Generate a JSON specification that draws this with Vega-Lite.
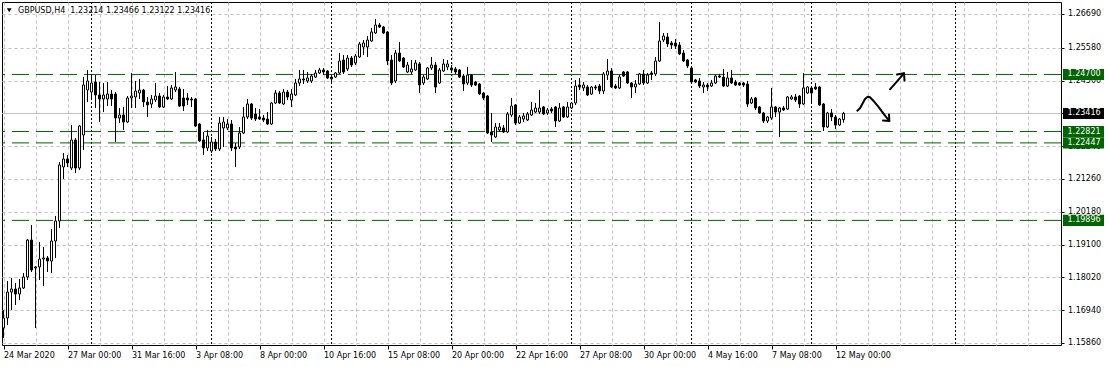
{
"$schema": "https://vega.github.io/schema/vega-lite/v6.json",
"width": 1059, "height": 343,
"autosize": {"type": "none"},
"padding": {"left": 2, "top": 2, "right": 46, "bottom": 22},
"background": "white",
"config": {"view": {"stroke": "#000000", "strokeWidth": 1}, "axis": {"labelOverlap": false, "labelFlush": false, "labelBound": false}},
"datasets": {
"candles": [
{"i":0,"o":1.16354,"c":1.16683,"h":1.16946,"l":1.16025},
{"i":1,"o":1.16683,"c":1.17538,"h":1.17901,"l":1.16453},
{"i":2,"o":1.17538,"c":1.17637,"h":1.18000,"l":1.16946},
{"i":3,"o":1.17637,"c":1.17473,"h":1.17835,"l":1.17110},
{"i":4,"o":1.17473,"c":1.17670,"h":1.17967,"l":1.17275},
{"i":5,"o":1.17670,"c":1.18033,"h":1.18164,"l":1.17637},
{"i":6,"o":1.18033,"c":1.19250,"h":1.19283,"l":1.17934},
{"i":7,"o":1.19250,"c":1.18263,"h":1.19745,"l":1.18197},
{"i":8,"o":1.18329,"c":1.18362,"h":1.18395,"l":1.16354},
{"i":9,"o":1.18362,"c":1.18625,"h":1.19184,"l":1.17934},
{"i":10,"o":1.18625,"c":1.18658,"h":1.19020,"l":1.17736},
{"i":11,"o":1.18658,"c":1.18559,"h":1.18724,"l":1.18197},
{"i":12,"o":1.18559,"c":1.19217,"h":1.19613,"l":1.18164},
{"i":13,"o":1.19217,"c":1.19876,"h":1.20041,"l":1.18658},
{"i":14,"o":1.19876,"c":1.21719,"h":1.21818,"l":1.19646},
{"i":15,"o":1.21654,"c":1.21917,"h":1.22114,"l":1.21259},
{"i":16,"o":1.21917,"c":1.21785,"h":1.22049,"l":1.21654},
{"i":17,"o":1.21621,"c":1.22542,"h":1.23036,"l":1.21555},
{"i":18,"o":1.22542,"c":1.21621,"h":1.22608,"l":1.21456},
{"i":19,"o":1.21621,"c":1.23003,"h":1.23036,"l":1.21555},
{"i":20,"o":1.22707,"c":1.24353,"h":1.24616,"l":1.22213},
{"i":21,"o":1.24188,"c":1.24485,"h":1.24847,"l":1.23793},
{"i":22,"o":1.24122,"c":1.24419,"h":1.24715,"l":1.23859},
{"i":23,"o":1.24452,"c":1.24023,"h":1.24682,"l":1.23596},
{"i":24,"o":1.24023,"c":1.23892,"h":1.24452,"l":1.23135},
{"i":25,"o":1.23892,"c":1.24023,"h":1.24419,"l":1.23464},
{"i":26,"o":1.23892,"c":1.24056,"h":1.24452,"l":1.23662},
{"i":27,"o":1.24056,"c":1.23892,"h":1.24188,"l":1.23662},
{"i":28,"o":1.24056,"c":1.23267,"h":1.24122,"l":1.22476},
{"i":29,"o":1.23267,"c":1.23365,"h":1.23596,"l":1.23102},
{"i":30,"o":1.23365,"c":1.23135,"h":1.23629,"l":1.22872},
{"i":31,"o":1.23135,"c":1.23925,"h":1.23990,"l":1.23102},
{"i":32,"o":1.23925,"c":1.23990,"h":1.24748,"l":1.23596},
{"i":33,"o":1.23958,"c":1.24155,"h":1.24485,"l":1.23596},
{"i":34,"o":1.24089,"c":1.24188,"h":1.24551,"l":1.23892},
{"i":35,"o":1.24188,"c":1.23793,"h":1.24222,"l":1.23629},
{"i":36,"o":1.23793,"c":1.23695,"h":1.23958,"l":1.23300},
{"i":37,"o":1.23727,"c":1.23892,"h":1.24023,"l":1.23596},
{"i":38,"o":1.23859,"c":1.23990,"h":1.24419,"l":1.23793},
{"i":39,"o":1.23990,"c":1.23629,"h":1.24089,"l":1.23596},
{"i":40,"o":1.23629,"c":1.23958,"h":1.24023,"l":1.23596},
{"i":41,"o":1.23958,"c":1.23892,"h":1.24320,"l":1.23859},
{"i":42,"o":1.23892,"c":1.24255,"h":1.24353,"l":1.23859},
{"i":43,"o":1.24188,"c":1.24287,"h":1.24781,"l":1.24122},
{"i":44,"o":1.24222,"c":1.23662,"h":1.24287,"l":1.23629},
{"i":45,"o":1.23925,"c":1.23662,"h":1.24222,"l":1.23497},
{"i":46,"o":1.23925,"c":1.23859,"h":1.24089,"l":1.23695},
{"i":47,"o":1.23892,"c":1.23859,"h":1.23958,"l":1.23629},
{"i":48,"o":1.23892,"c":1.23003,"h":1.23925,"l":1.22971},
{"i":49,"o":1.23069,"c":1.22509,"h":1.23102,"l":1.22476},
{"i":50,"o":1.22542,"c":1.22279,"h":1.22806,"l":1.22049},
{"i":51,"o":1.22279,"c":1.22674,"h":1.22872,"l":1.22180},
{"i":52,"o":1.22180,"c":1.22476,"h":1.22641,"l":1.22114},
{"i":53,"o":1.22476,"c":1.22246,"h":1.22575,"l":1.22180},
{"i":54,"o":1.22246,"c":1.23102,"h":1.23300,"l":1.22180},
{"i":55,"o":1.22938,"c":1.23135,"h":1.23300,"l":1.22312},
{"i":56,"o":1.22938,"c":1.23069,"h":1.23234,"l":1.22872},
{"i":57,"o":1.23069,"c":1.22279,"h":1.23201,"l":1.22180},
{"i":58,"o":1.22312,"c":1.22246,"h":1.22443,"l":1.21654},
{"i":59,"o":1.22312,"c":1.22773,"h":1.22971,"l":1.22246},
{"i":60,"o":1.22773,"c":1.23300,"h":1.23629,"l":1.22740},
{"i":61,"o":1.23300,"c":1.23727,"h":1.23892,"l":1.23234},
{"i":62,"o":1.23727,"c":1.23267,"h":1.23760,"l":1.23201},
{"i":63,"o":1.23398,"c":1.23234,"h":1.23596,"l":1.23168},
{"i":64,"o":1.23300,"c":1.23234,"h":1.23563,"l":1.23201},
{"i":65,"o":1.23267,"c":1.23201,"h":1.23365,"l":1.23135},
{"i":66,"o":1.23234,"c":1.23069,"h":1.23464,"l":1.23036},
{"i":67,"o":1.23069,"c":1.23760,"h":1.23793,"l":1.23036},
{"i":68,"o":1.23760,"c":1.24089,"h":1.24188,"l":1.23727},
{"i":69,"o":1.24089,"c":1.23760,"h":1.24155,"l":1.23727},
{"i":70,"o":1.23727,"c":1.24122,"h":1.24222,"l":1.23695},
{"i":71,"o":1.24122,"c":1.23958,"h":1.24188,"l":1.23859},
{"i":72,"o":1.23859,"c":1.24056,"h":1.24222,"l":1.23629},
{"i":73,"o":1.24023,"c":1.24419,"h":1.24551,"l":1.23990},
{"i":74,"o":1.24419,"c":1.24551,"h":1.24847,"l":1.24320},
{"i":75,"o":1.24551,"c":1.24518,"h":1.24847,"l":1.24386},
{"i":76,"o":1.24485,"c":1.24584,"h":1.24781,"l":1.24419},
{"i":77,"o":1.24485,"c":1.24649,"h":1.24715,"l":1.24419},
{"i":78,"o":1.24616,"c":1.24748,"h":1.24847,"l":1.24584},
{"i":79,"o":1.24748,"c":1.24847,"h":1.24913,"l":1.24715},
{"i":80,"o":1.24847,"c":1.24781,"h":1.24913,"l":1.24682},
{"i":81,"o":1.24814,"c":1.24584,"h":1.24847,"l":1.24551},
{"i":82,"o":1.24616,"c":1.24551,"h":1.24682,"l":1.24419},
{"i":83,"o":1.24616,"c":1.24748,"h":1.24781,"l":1.24584},
{"i":84,"o":1.24748,"c":1.25143,"h":1.25406,"l":1.24715},
{"i":85,"o":1.25176,"c":1.24781,"h":1.25340,"l":1.24715},
{"i":86,"o":1.24880,"c":1.25242,"h":1.25340,"l":1.24814},
{"i":87,"o":1.25242,"c":1.25011,"h":1.25307,"l":1.24946},
{"i":88,"o":1.25077,"c":1.25307,"h":1.25373,"l":1.25011},
{"i":89,"o":1.25275,"c":1.25702,"h":1.25768,"l":1.25242},
{"i":90,"o":1.25604,"c":1.25735,"h":1.25834,"l":1.25340},
{"i":91,"o":1.25604,"c":1.25834,"h":1.25966,"l":1.25275},
{"i":92,"o":1.25801,"c":1.26098,"h":1.26229,"l":1.25768},
{"i":93,"o":1.26065,"c":1.26328,"h":1.26526,"l":1.26032},
{"i":94,"o":1.26328,"c":1.26262,"h":1.26394,"l":1.26229},
{"i":95,"o":1.26262,"c":1.26065,"h":1.26295,"l":1.26032},
{"i":96,"o":1.26098,"c":1.25143,"h":1.26131,"l":1.25011},
{"i":97,"o":1.25176,"c":1.24419,"h":1.25340,"l":1.24353},
{"i":98,"o":1.24485,"c":1.25406,"h":1.25505,"l":1.24419},
{"i":99,"o":1.25406,"c":1.25143,"h":1.25768,"l":1.25110},
{"i":100,"o":1.25242,"c":1.24946,"h":1.25275,"l":1.24913},
{"i":101,"o":1.24781,"c":1.25011,"h":1.25110,"l":1.24748},
{"i":102,"o":1.24781,"c":1.24880,"h":1.25176,"l":1.24715},
{"i":103,"o":1.24847,"c":1.25077,"h":1.25176,"l":1.24814},
{"i":104,"o":1.25044,"c":1.24353,"h":1.25110,"l":1.24089},
{"i":105,"o":1.24419,"c":1.24616,"h":1.24682,"l":1.24353},
{"i":106,"o":1.24551,"c":1.24913,"h":1.24946,"l":1.24518},
{"i":107,"o":1.24913,"c":1.25011,"h":1.25275,"l":1.24847},
{"i":108,"o":1.25011,"c":1.24287,"h":1.25110,"l":1.24089},
{"i":109,"o":1.24419,"c":1.24847,"h":1.24913,"l":1.24386},
{"i":110,"o":1.24814,"c":1.25044,"h":1.25209,"l":1.24781},
{"i":111,"o":1.24946,"c":1.25044,"h":1.25176,"l":1.24847},
{"i":112,"o":1.24913,"c":1.24847,"h":1.25011,"l":1.24748},
{"i":113,"o":1.24880,"c":1.24781,"h":1.24946,"l":1.24715},
{"i":114,"o":1.24847,"c":1.24616,"h":1.24880,"l":1.24584},
{"i":115,"o":1.24649,"c":1.24386,"h":1.24715,"l":1.24155},
{"i":116,"o":1.24419,"c":1.24682,"h":1.24946,"l":1.24353},
{"i":117,"o":1.24682,"c":1.24353,"h":1.24715,"l":1.24287},
{"i":118,"o":1.24452,"c":1.24353,"h":1.24485,"l":1.24320},
{"i":119,"o":1.24386,"c":1.24056,"h":1.24419,"l":1.24023},
{"i":120,"o":1.24089,"c":1.23925,"h":1.24122,"l":1.23859},
{"i":121,"o":1.23990,"c":1.22773,"h":1.24023,"l":1.22740},
{"i":122,"o":1.22806,"c":1.22707,"h":1.23431,"l":1.22476},
{"i":123,"o":1.22641,"c":1.22971,"h":1.23102,"l":1.22608},
{"i":124,"o":1.22872,"c":1.22971,"h":1.23102,"l":1.22806},
{"i":125,"o":1.22938,"c":1.22806,"h":1.23036,"l":1.22773},
{"i":126,"o":1.22806,"c":1.23398,"h":1.23464,"l":1.22773},
{"i":127,"o":1.23365,"c":1.23662,"h":1.23925,"l":1.23300},
{"i":128,"o":1.23695,"c":1.23102,"h":1.23727,"l":1.23036},
{"i":129,"o":1.23102,"c":1.23300,"h":1.23365,"l":1.23069},
{"i":130,"o":1.23234,"c":1.23333,"h":1.23431,"l":1.23135},
{"i":131,"o":1.23201,"c":1.23398,"h":1.23464,"l":1.23168},
{"i":132,"o":1.23365,"c":1.23530,"h":1.23793,"l":1.23333},
{"i":133,"o":1.23464,"c":1.23596,"h":1.23760,"l":1.23431},
{"i":134,"o":1.23464,"c":1.23596,"h":1.24188,"l":1.23398},
{"i":135,"o":1.23629,"c":1.23398,"h":1.23662,"l":1.23365},
{"i":136,"o":1.23431,"c":1.23530,"h":1.23596,"l":1.23365},
{"i":137,"o":1.23563,"c":1.23497,"h":1.23629,"l":1.23431},
{"i":138,"o":1.23629,"c":1.23168,"h":1.23662,"l":1.22971},
{"i":139,"o":1.23168,"c":1.23596,"h":1.23760,"l":1.23135},
{"i":140,"o":1.23629,"c":1.23300,"h":1.23662,"l":1.23267},
{"i":141,"o":1.23300,"c":1.23629,"h":1.23793,"l":1.23267},
{"i":142,"o":1.23596,"c":1.23760,"h":1.23793,"l":1.23563},
{"i":143,"o":1.23760,"c":1.24320,"h":1.24518,"l":1.23695},
{"i":144,"o":1.24353,"c":1.24287,"h":1.24584,"l":1.24188},
{"i":145,"o":1.24255,"c":1.24353,"h":1.24452,"l":1.24155},
{"i":146,"o":1.24287,"c":1.24023,"h":1.24353,"l":1.23990},
{"i":147,"o":1.24056,"c":1.24287,"h":1.24320,"l":1.24023},
{"i":148,"o":1.24287,"c":1.24255,"h":1.24353,"l":1.24188},
{"i":149,"o":1.24320,"c":1.24155,"h":1.24386,"l":1.24056},
{"i":150,"o":1.24155,"c":1.24715,"h":1.24781,"l":1.24056},
{"i":151,"o":1.24682,"c":1.24814,"h":1.25209,"l":1.24518},
{"i":152,"o":1.24814,"c":1.24287,"h":1.24913,"l":1.24255},
{"i":153,"o":1.24320,"c":1.24255,"h":1.24386,"l":1.24222},
{"i":154,"o":1.24255,"c":1.24616,"h":1.24682,"l":1.24222},
{"i":155,"o":1.24781,"c":1.24649,"h":1.24814,"l":1.24616},
{"i":156,"o":1.24781,"c":1.24419,"h":1.24814,"l":1.24386},
{"i":157,"o":1.24419,"c":1.24287,"h":1.24452,"l":1.23925},
{"i":158,"o":1.24287,"c":1.24386,"h":1.24518,"l":1.24089},
{"i":159,"o":1.24386,"c":1.24715,"h":1.24748,"l":1.24353},
{"i":160,"o":1.24715,"c":1.24419,"h":1.24847,"l":1.24353},
{"i":161,"o":1.24419,"c":1.24682,"h":1.24748,"l":1.24386},
{"i":162,"o":1.24748,"c":1.24715,"h":1.24814,"l":1.24518},
{"i":163,"o":1.24715,"c":1.25143,"h":1.25275,"l":1.24649},
{"i":164,"o":1.25143,"c":1.25801,"h":1.26427,"l":1.25110},
{"i":165,"o":1.25834,"c":1.25966,"h":1.26065,"l":1.25768},
{"i":166,"o":1.25933,"c":1.25702,"h":1.26065,"l":1.25604},
{"i":167,"o":1.25735,"c":1.25669,"h":1.25801,"l":1.25538},
{"i":168,"o":1.25735,"c":1.25636,"h":1.25868,"l":1.25538},
{"i":169,"o":1.25669,"c":1.25373,"h":1.25768,"l":1.25340},
{"i":170,"o":1.25406,"c":1.25143,"h":1.25505,"l":1.25110},
{"i":171,"o":1.25176,"c":1.24978,"h":1.25209,"l":1.24913},
{"i":172,"o":1.24913,"c":1.24452,"h":1.24946,"l":1.24419},
{"i":173,"o":1.24518,"c":1.24452,"h":1.24551,"l":1.24419},
{"i":174,"o":1.24485,"c":1.24320,"h":1.24584,"l":1.24255},
{"i":175,"o":1.24287,"c":1.24353,"h":1.24452,"l":1.24089},
{"i":176,"o":1.24353,"c":1.24287,"h":1.24419,"l":1.24155},
{"i":177,"o":1.24320,"c":1.24419,"h":1.24518,"l":1.24287},
{"i":178,"o":1.24419,"c":1.24649,"h":1.24682,"l":1.24386},
{"i":179,"o":1.24649,"c":1.24616,"h":1.24715,"l":1.24584},
{"i":180,"o":1.24616,"c":1.24320,"h":1.24880,"l":1.24287},
{"i":181,"o":1.24320,"c":1.24584,"h":1.24781,"l":1.24287},
{"i":182,"o":1.24584,"c":1.24419,"h":1.24847,"l":1.24386},
{"i":183,"o":1.24452,"c":1.24353,"h":1.24518,"l":1.24320},
{"i":184,"o":1.24419,"c":1.24353,"h":1.24452,"l":1.24320},
{"i":185,"o":1.24419,"c":1.24353,"h":1.24452,"l":1.24287},
{"i":186,"o":1.24386,"c":1.23727,"h":1.24485,"l":1.23629},
{"i":187,"o":1.23760,"c":1.23892,"h":1.23958,"l":1.23727},
{"i":188,"o":1.23925,"c":1.23596,"h":1.23958,"l":1.23530},
{"i":189,"o":1.23629,"c":1.23431,"h":1.23662,"l":1.23398},
{"i":190,"o":1.23431,"c":1.23168,"h":1.23464,"l":1.23102},
{"i":191,"o":1.23168,"c":1.23300,"h":1.23333,"l":1.23102},
{"i":192,"o":1.23267,"c":1.23629,"h":1.24255,"l":1.23201},
{"i":193,"o":1.23629,"c":1.23464,"h":1.23662,"l":1.23300},
{"i":194,"o":1.23464,"c":1.23596,"h":1.23629,"l":1.22641},
{"i":195,"o":1.23596,"c":1.23530,"h":1.23662,"l":1.23497},
{"i":196,"o":1.23563,"c":1.23958,"h":1.23990,"l":1.23530},
{"i":197,"o":1.23892,"c":1.23958,"h":1.24023,"l":1.23859},
{"i":198,"o":1.23958,"c":1.23859,"h":1.24056,"l":1.23793},
{"i":199,"o":1.23990,"c":1.23727,"h":1.24023,"l":1.23596},
{"i":200,"o":1.23727,"c":1.24255,"h":1.24748,"l":1.23695},
{"i":201,"o":1.24089,"c":1.24287,"h":1.24320,"l":1.24056},
{"i":202,"o":1.24255,"c":1.24089,"h":1.24287,"l":1.23760},
{"i":203,"o":1.24287,"c":1.24222,"h":1.24419,"l":1.24188},
{"i":204,"o":1.24287,"c":1.23695,"h":1.24320,"l":1.23662},
{"i":205,"o":1.23727,"c":1.22971,"h":1.23760,"l":1.22839},
{"i":206,"o":1.22971,"c":1.23431,"h":1.23464,"l":1.22938},
{"i":207,"o":1.23431,"c":1.23300,"h":1.23563,"l":1.23168},
{"i":208,"o":1.23300,"c":1.23036,"h":1.23365,"l":1.22905},
{"i":209,"o":1.23036,"c":1.23234,"h":1.23267,"l":1.23003},
{"i":210,"o":1.23214,"c":1.23416,"h":1.23466,"l":1.23122}
],
"seps": [{"sep":22},{"sep":52},{"sep":82},{"sep":112},{"sep":142},{"sep":172},{"sep":202},{"sep":238}],
"levels": [{"level":1.247},{"level":1.22821},{"level":1.22447},{"level":1.19896}],
"bid": [{"level":1.23416}],
"draw": [
{"s":"a","k":0,"i":221.63,"p":1.24211},
{"s":"a","k":1,"i":225.13,"p":1.24738},
{"s":"b","k":0,"i":223.38,"p":1.24699},
{"s":"b","k":1,"i":225.13,"p":1.24738},
{"s":"b","k":2,"i":225.25,"p":1.24501},
{"s":"c","k":0,"i":213.45,"p":1.23507},
{"s":"c","k":1,"i":214.13,"p":1.23586},
{"s":"c","k":2,"i":214.8,"p":1.23751},
{"s":"c","k":3,"i":215.38,"p":1.23892},
{"s":"c","k":4,"i":216.05,"p":1.23968},
{"s":"c","k":5,"i":216.63,"p":1.23948},
{"s":"c","k":6,"i":217.45,"p":1.23836},
{"s":"c","k":7,"i":218.7,"p":1.23639},
{"s":"c","k":8,"i":219.95,"p":1.23421},
{"s":"c","k":9,"i":221.45,"p":1.23168},
{"s":"d","k":0,"i":219.88,"p":1.23184},
{"s":"d","k":1,"i":221.45,"p":1.23168},
{"s":"d","k":2,"i":221.38,"p":1.23382}
],
"title": [{"t":"GBPUSD,H4\u00a0\u00a01.23214 1.23466 1.23122 1.23416"}]
},
"layer": [
{"data": {"name": "candles"},
 "mark": {"type": "rule", "color": "#000000", "strokeWidth": 1},
 "encoding": {
  "x": {"field": "i", "type": "quantitative", "scale": {"domain": [-0.375, 264.375], "nice": false, "zero": false, "padding": 0},
   "axis": {"values": [0,8,16,24,32,40,48,56,64,72,80,88,96,104,112,120,128,136,144,152,160,168,176,184,192,200,208,216,224,232,240,248,256],
    "tickCount": 200,
    "labelExpr": "datum.value % 16 === 0 && datum.value <= 208 ? ['24 Mar 2020','27 Mar 00:00','31 Mar 16:00','3 Apr 08:00','8 Apr 00:00','10 Apr 16:00','15 Apr 08:00','20 Apr 00:00','22 Apr 16:00','27 Apr 08:00','30 Apr 00:00','4 May 16:00','7 May 08:00','12 May 00:00'][datum.value / 16] : ''",
    "grid": true, "gridColor": "#c0c0c0", "gridDash": [3, 3],
    "tickColor": {"condition": {"test": "datum.value % 16 === 0 && datum.value <= 208", "value": "#000000"}, "value": "transparent"},
    "tickSize": 4, "domain": false,
    "labelAlign": "left", "labelBaseline": "top", "labelPadding": 2,
    "labelFont": "DejaVu Sans", "labelFontSize": 8, "labelColor": "#000000",
    "labelOverlap": false, "labelFlush": false, "labelBound": false, "title": null}},
  "y": {"field": "l", "type": "quantitative", "scale": {"domain": [1.15794, 1.27085], "nice": false, "zero": false, "padding": 0},
   "axis": {"orient": "right", "values": [1.1586,1.1694,1.1802,1.191,1.2018,1.2126,1.2234,1.2342,1.245,1.2558,1.2669],
    "tickCount": 200,
    "format": ".5f", "grid": true, "gridColor": "#c0c0c0", "gridDash": [3, 3],
    "tickSize": 3, "tickColor": "#000000", "domain": false, "labelPadding": 3.5,
    "labelFont": "DejaVu Sans", "labelFontSize": 8, "labelColor": "#000000",
    "labelOverlap": false, "labelFlush": false, "labelBound": false, "title": null}},
  "y2": {"field": "h"}}},
{"data": {"name": "seps"},
 "mark": {"type": "rule", "color": "#000000", "strokeWidth": 1, "strokeDash": [2, 2]},
 "encoding": {"x": {"field": "sep", "type": "quantitative"}}},
{"data": {"name": "levels"},
 "mark": {"type": "rule", "color": "#006400", "strokeWidth": 1, "strokeDash": [17, 7]},
 "encoding": {"y": {"field": "level", "type": "quantitative"}}},
{"data": {"name": "bid"},
 "mark": {"type": "rule", "color": "#c0c0c0", "strokeWidth": 1},
 "encoding": {"y": {"field": "level", "type": "quantitative"}}},
{"data": {"name": "candles"},
 "mark": {"type": "rule", "color": "#000000", "strokeWidth": 1},
 "encoding": {
  "x": {"field": "i", "type": "quantitative"},
  "y": {"field": "l", "type": "quantitative"},
  "y2": {"field": "h"}}},
{"data": {"name": "candles"},
 "mark": {"type": "bar", "width": 2, "stroke": "#000000", "strokeWidth": 1},
 "encoding": {
  "x": {"field": "i", "type": "quantitative"},
  "y": {"field": "o", "type": "quantitative"},
  "y2": {"field": "c"},
  "fill": {"condition": {"test": "datum.c >= datum.o", "value": "#ffffff"}, "value": "#000000"}}},
{"data": {"name": "draw"},
 "mark": {"type": "line", "color": "#000000", "strokeWidth": 2, "strokeCap": "round", "strokeJoin": "round"},
 "encoding": {
  "x": {"field": "i", "type": "quantitative"},
  "y": {"field": "p", "type": "quantitative"},
  "detail": {"field": "s"},
  "order": {"field": "k"}}},
{"data": {"name": "levels"},
 "mark": {"type": "point", "shape": "M-1,-0.27L1,-0.27L1,0.27L-1,0.27Z", "size": 1681, "filled": true, "color": "#006400", "opacity": 1, "strokeWidth": 0},
 "encoding": {"x": {"datum": 270, "type": "quantitative"}, "y": {"field": "level", "type": "quantitative"}}},
{"data": {"name": "levels"},
 "mark": {"type": "text", "align": "left", "baseline": "middle", "font": "DejaVu Sans", "fontSize": 8, "color": "#ffffff"},
 "encoding": {"x": {"datum": 266, "type": "quantitative"}, "y": {"field": "level", "type": "quantitative"}, "text": {"field": "level", "format": ".5f"}}},
{"data": {"name": "bid"},
 "mark": {"type": "point", "shape": "M-1,-0.27L1,-0.27L1,0.27L-1,0.27Z", "size": 1681, "filled": true, "color": "#000000", "opacity": 1, "strokeWidth": 0},
 "encoding": {"x": {"datum": 270, "type": "quantitative"}, "y": {"field": "level", "type": "quantitative"}}},
{"data": {"name": "bid"},
 "mark": {"type": "text", "align": "left", "baseline": "middle", "font": "DejaVu Sans", "fontSize": 8, "color": "#ffffff"},
 "encoding": {"x": {"datum": 266, "type": "quantitative"}, "y": {"field": "level", "type": "quantitative"}, "text": {"field": "level", "format": ".5f"}}},
{"data": {"name": "title"},
 "mark": {"type": "text", "align": "left", "baseline": "middle", "font": "DejaVu Sans", "fontSize": 8, "color": "#000000"},
 "encoding": {"x": {"datum": 3.625, "type": "quantitative"}, "y": {"datum": 1.26799, "type": "quantitative"}, "text": {"field": "t"}}},
{"data": {"name": "title"},
 "mark": {"type": "point", "shape": "triangle-down", "size": 22, "filled": true, "color": "#000000", "opacity": 1},
 "encoding": {"x": {"datum": 1.43, "type": "quantitative"}, "y": {"datum": 1.26812, "type": "quantitative"}}}
]
}
